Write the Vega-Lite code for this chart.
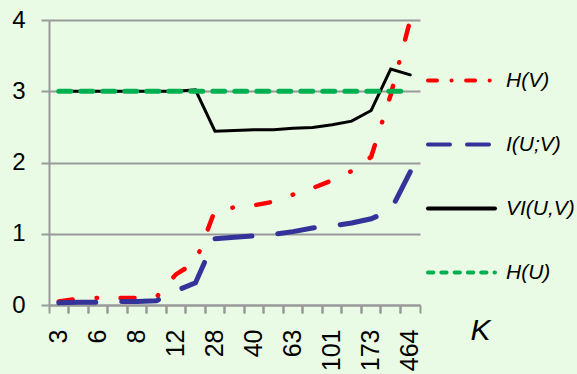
{
  "$schema": "https://vega.github.io/schema/vega-lite/v6.json",
  "width": 371,
  "height": 285,
  "autosize": {"type": "none"},
  "padding": {"left": 49, "top": 20, "right": 157, "bottom": 69},
  "background": "#e9fbe4",
  "config": {
    "view": {"stroke": null},
    "font": "Liberation Sans"
  },
  "data": {
    "values": [
      {"K": 3, "series": "H(V)", "v": 0.05}, {"K": 4, "series": "H(V)", "v": 0.09}, {"K": 6, "series": "H(V)", "v": 0.1}, {"K": 7, "series": "H(V)", "v": 0.1}, {"K": 8, "series": "H(V)", "v": 0.1}, {"K": 10, "series": "H(V)", "v": 0.11}, {"K": 12, "series": "H(V)", "v": 0.43}, {"K": 18, "series": "H(V)", "v": 0.6}, {"K": 28, "series": "H(V)", "v": 1.33}, {"K": 33, "series": "H(V)", "v": 1.37}, {"K": 40, "series": "H(V)", "v": 1.4}, {"K": 50, "series": "H(V)", "v": 1.45}, {"K": 63, "series": "H(V)", "v": 1.55}, {"K": 80, "series": "H(V)", "v": 1.64}, {"K": 101, "series": "H(V)", "v": 1.75}, {"K": 130, "series": "H(V)", "v": 1.88}, {"K": 173, "series": "H(V)", "v": 2.08}, {"K": 280, "series": "H(V)", "v": 2.95}, {"K": 464, "series": "H(V)", "v": 4.0},
      {"K": 3, "series": "I(U;V)", "v": 0.03}, {"K": 4, "series": "I(U;V)", "v": 0.04}, {"K": 6, "series": "I(U;V)", "v": 0.04}, {"K": 7, "series": "I(U;V)", "v": 0.05}, {"K": 8, "series": "I(U;V)", "v": 0.05}, {"K": 10, "series": "I(U;V)", "v": 0.06}, {"K": 12, "series": "I(U;V)", "v": 0.2}, {"K": 18, "series": "I(U;V)", "v": 0.31}, {"K": 28, "series": "I(U;V)", "v": 0.93}, {"K": 33, "series": "I(U;V)", "v": 0.95}, {"K": 40, "series": "I(U;V)", "v": 0.97}, {"K": 50, "series": "I(U;V)", "v": 0.99}, {"K": 63, "series": "I(U;V)", "v": 1.03}, {"K": 80, "series": "I(U;V)", "v": 1.08}, {"K": 101, "series": "I(U;V)", "v": 1.11}, {"K": 130, "series": "I(U;V)", "v": 1.15}, {"K": 173, "series": "I(U;V)", "v": 1.21}, {"K": 280, "series": "I(U;V)", "v": 1.33}, {"K": 464, "series": "I(U;V)", "v": 1.87},
      {"K": 3, "series": "VI(U,V)", "v": 3.0}, {"K": 4, "series": "VI(U,V)", "v": 3.0}, {"K": 6, "series": "VI(U,V)", "v": 3.0}, {"K": 7, "series": "VI(U,V)", "v": 3.0}, {"K": 8, "series": "VI(U,V)", "v": 3.0}, {"K": 10, "series": "VI(U,V)", "v": 3.0}, {"K": 12, "series": "VI(U,V)", "v": 3.0}, {"K": 18, "series": "VI(U,V)", "v": 3.02}, {"K": 28, "series": "VI(U,V)", "v": 2.44}, {"K": 33, "series": "VI(U,V)", "v": 2.45}, {"K": 40, "series": "VI(U,V)", "v": 2.46}, {"K": 50, "series": "VI(U,V)", "v": 2.46}, {"K": 63, "series": "VI(U,V)", "v": 2.48}, {"K": 80, "series": "VI(U,V)", "v": 2.49}, {"K": 101, "series": "VI(U,V)", "v": 2.53}, {"K": 130, "series": "VI(U,V)", "v": 2.58}, {"K": 173, "series": "VI(U,V)", "v": 2.73}, {"K": 280, "series": "VI(U,V)", "v": 3.31}, {"K": 464, "series": "VI(U,V)", "v": 3.23},
      {"K": 3, "series": "H(U)", "v": 3.0}, {"K": 4, "series": "H(U)", "v": 3.0}, {"K": 6, "series": "H(U)", "v": 3.0}, {"K": 7, "series": "H(U)", "v": 3.0}, {"K": 8, "series": "H(U)", "v": 3.0}, {"K": 10, "series": "H(U)", "v": 3.0}, {"K": 12, "series": "H(U)", "v": 3.0}, {"K": 18, "series": "H(U)", "v": 3.0}, {"K": 28, "series": "H(U)", "v": 3.0}, {"K": 33, "series": "H(U)", "v": 3.0}, {"K": 40, "series": "H(U)", "v": 3.0}, {"K": 50, "series": "H(U)", "v": 3.0}, {"K": 63, "series": "H(U)", "v": 3.0}, {"K": 80, "series": "H(U)", "v": 3.0}, {"K": 101, "series": "H(U)", "v": 3.0}, {"K": 130, "series": "H(U)", "v": 3.0}, {"K": 173, "series": "H(U)", "v": 3.0}, {"K": 280, "series": "H(U)", "v": 3.0}, {"K": 464, "series": "H(U)", "v": 3.0}
    ]
  },
  "resolve": {"axis": {"x": "independent"}},
  "layer": [
    {
      "transform": [{"filter": "datum.series === 'H(V)'"}],
      "mark": {"type": "line", "strokeWidth": 4.5, "strokeCap": "round", "strokeDash": [14, 24, 0.5, 23.5]},
      "encoding": {
        "x": {
          "field": "K", "type": "ordinal",
          "scale": {"type": "band", "paddingInner": 0, "paddingOuter": 0},
          "axis": {
            "orient": "bottom", "bandPosition": 0, "labelOffset": 0,
            "labelAngle": -90, "labelAlign": "right", "labelBaseline": "middle",
            "labelOverlap": "parity", "labelFontSize": 25, "labelColor": "#000000",
            "labelPadding": 16, "tickSize": 8, "tickColor": "#999999", "tickWidth": 2,
            "domainColor": "#999999", "domainWidth": 2, "grid": false,
            "title": "K", "titleFontSize": 30, "titleFontStyle": "italic", "titleFontWeight": "normal",
            "titleColor": "#000000", "titleX": 431, "titleY": 25, "titleAlign": "center", "titleBaseline": "middle", "titleAngle": 0
          }
        },
        "y": {
          "field": "v", "type": "quantitative",
          "scale": {"domain": [0, 4], "nice": false, "zero": true},
          "axis": {
            "values": [0, 1, 2, 3, 4], "format": "d", "title": null, "labelFontSize": 24, "labelColor": "#000000",
            "labelPadding": 16, "tickSize": 8, "tickColor": "#999999", "tickWidth": 2,
            "domainColor": "#999999", "domainWidth": 2, "grid": true, "gridColor": "#999999", "gridWidth": 2
          }
        },
        "color": {
          "field": "series", "type": "nominal",
          "scale": {"domain": ["H(V)", "I(U;V)", "VI(U,V)", "H(U)"], "range": ["#ff0000", "#333399", "#000000", "#00b050"]},
          "legend": {
            "orient": "none", "legendX": 377, "legendY": 25, "title": null,
            "symbolType": "stroke", "symbolSize": 4489, "symbolStrokeWidth": 4,
            "labelFontSize": 21, "labelFontStyle": "italic", "labelColor": "#000000", "labelOffset": 9,
            "padding": 0, "rowPadding": 18,
            "encode": {
              "symbols": {
                "update": {
                  "strokeDash": {"signal": "datum.value === 'H(V)' ? [9, 14.5, 0.1, 14.5] : datum.value === 'I(U;V)' ? [22, 17] : datum.value === 'H(U)' ? [5.3, 8] : [200, 0]"},
                  "strokeWidth": {"value": 4},
                  "strokeCap": {"value": "round"}
                }
              }
            }
          }
        }
      }
    },
    {
      "transform": [{"filter": "datum.series === 'I(U;V)'"}],
      "mark": {"type": "line", "strokeWidth": 5, "strokeCap": "round", "strokeDash": [37, 26]},
      "encoding": {
        "x": {
          "field": "K", "type": "ordinal",
          "axis": {
            "orient": "bottom", "bandPosition": 1, "labels": false, "domain": false, "grid": false,
            "tickSize": 8, "tickColor": "#999999", "tickWidth": 2, "title": null
          }
        },
        "y": {"field": "v", "type": "quantitative"},
        "color": {"field": "series", "type": "nominal"}
      }
    },
    {
      "transform": [{"filter": "datum.series === 'VI(U,V)'"}],
      "mark": {"type": "line", "strokeWidth": 3, "strokeCap": "round"},
      "encoding": {
        "x": {"field": "K", "type": "ordinal", "axis": null},
        "y": {"field": "v", "type": "quantitative"},
        "color": {"field": "series", "type": "nominal"}
      }
    },
    {
      "transform": [{"filter": "datum.series === 'H(U)'"}],
      "mark": {"type": "line", "strokeWidth": 5, "strokeCap": "round", "strokeDash": [12, 10]},
      "encoding": {
        "x": {"field": "K", "type": "ordinal", "axis": null},
        "y": {"field": "v", "type": "quantitative"},
        "color": {"field": "series", "type": "nominal"}
      }
    }
  ]
}
